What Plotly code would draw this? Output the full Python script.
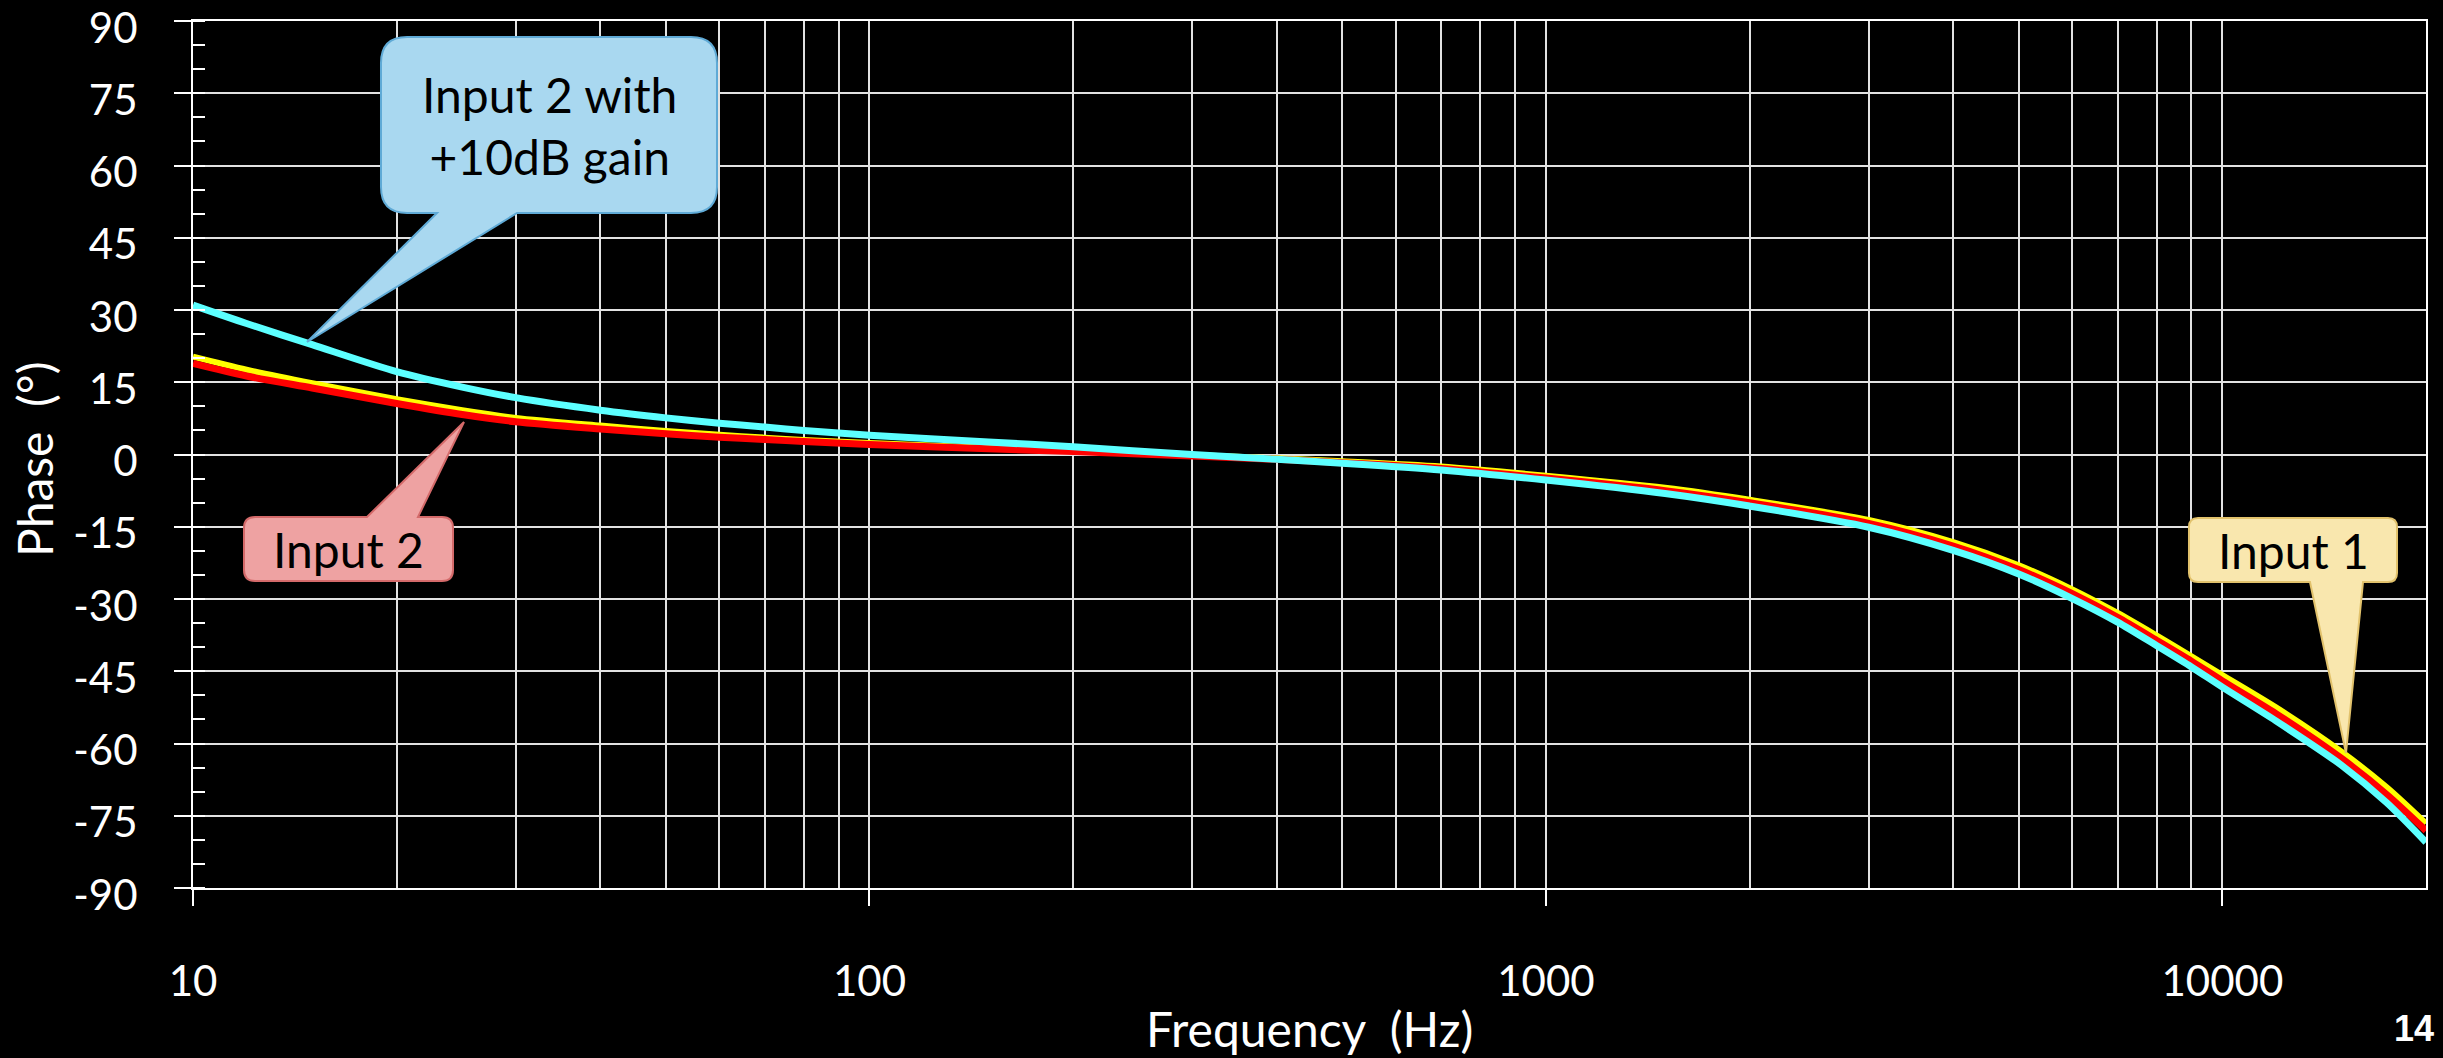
import plotly.graph_objects as go

# ---------------- data ----------------
freq_hz = [10, 12, 15, 20, 25, 30, 40, 50, 60, 70, 80, 100, 150, 200, 300, 400, 500, 700,
           1000, 1500, 2000, 3000, 4000, 5000, 6000, 7000, 8000, 9000, 10000, 12000, 15000,
           17500, 20000]

phase_input1 = [20.3, 17.6, 14.8, 11.5, 9.2, 7.6, 6.0, 4.9, 4.1, 3.5, 3.0, 2.4, 1.4, 0.8, -0.1,
                -0.8, -1.4, -2.5, -4.4, -6.9, -9.4, -13.6, -18.2, -23.0, -28.0, -32.9, -37.6,
                -41.9, -45.8, -52.5, -61.7, -69.1, -76.6]

phase_input2 = [18.9, 16.3, 13.8, 10.6, 8.3, 6.8, 5.3, 4.3, 3.6, 3.1, 2.7, 2.1, 1.2, 0.6, -0.3,
                -1.0, -1.7, -2.9, -4.9, -7.5, -10.0, -14.3, -19.0, -23.9, -28.9, -33.8, -38.6,
                -42.9, -47.0, -53.8, -63.1, -70.6, -78.1]

phase_input2_gain = [31.0, 27.2, 22.8, 17.2, 14.0, 11.8, 9.2, 7.6, 6.5, 5.7, 5.0, 4.0, 2.6, 1.6,
                     0.0, -1.0, -1.8, -3.2, -5.3, -8.1, -10.7, -15.1, -19.9, -24.8, -29.9, -34.8,
                     -39.7, -44.1, -48.3, -55.3, -64.5, -72.3, -80.5]

x_tick_vals = [10, 100, 1000, 10000]
x_tick_text = ["10", "100", "1000", "10000"]
x_minor_grid = [20, 30, 40, 50, 60, 70, 80, 90,
                200, 300, 400, 500, 600, 700, 800, 900,
                2000, 3000, 4000, 5000, 6000, 7000, 8000, 9000]
y_tick_vals = [90, 75, 60, 45, 30, 15, 0, -15, -30, -45, -60, -75, -90]
y_tick_text = ["90", "75", "60", "45", "30", "15", "0", "-15", "-30", "-45", "-60", "-75", "-90"]

# ---------------- layout geometry ----------------
W, H = 2443, 1058
L, R, T, B = 193, 2426, 21, 888
PW, PH = R - L, B - T
FONT = "Lato"
GRID = "#E2E2E2"


def to_paper(x, y):
    return (x - L) / PW, (B - y) / PH


def callout_path(left, top, right, bottom, r, edge, bx0, bx1, tip):
    cmds = []

    def P(x, y):
        px, py = to_paper(x, y)
        return f"{px:.5f},{py:.5f}"

    cmds.append("M" + P(left + r, top))
    if edge == "top":
        cmds.append("L" + P(bx0, top))
        cmds.append("L" + P(*tip))
        cmds.append("L" + P(bx1, top))
    cmds.append("L" + P(right - r, top))
    cmds.append("Q" + P(right, top) + " " + P(right, top + r))
    cmds.append("L" + P(right, bottom - r))
    cmds.append("Q" + P(right, bottom) + " " + P(right - r, bottom))
    if edge == "bottom":
        cmds.append("L" + P(bx1, bottom))
        cmds.append("L" + P(*tip))
        cmds.append("L" + P(bx0, bottom))
    cmds.append("L" + P(left + r, bottom))
    cmds.append("Q" + P(left, bottom) + " " + P(left, bottom - r))
    cmds.append("L" + P(left, top + r))
    cmds.append("Q" + P(left, top) + " " + P(left + r, top))
    return " ".join(cmds) + " Z"


fig = go.Figure()
fig.add_trace(go.Scatter(x=freq_hz, y=phase_input1, mode="lines", name="Input 1",
                         line=dict(color="#FFFF00", width=6, shape="spline", smoothing=0.8)))
fig.add_trace(go.Scatter(x=freq_hz, y=phase_input2, mode="lines", name="Input 2",
                         line=dict(color="#FF0000", width=7, shape="spline", smoothing=0.8)))
fig.add_trace(go.Scatter(x=freq_hz, y=phase_input2_gain, mode="lines",
                         name="Input 2 with +10dB gain",
                         line=dict(color="#5CFFFF", width=7, shape="spline", smoothing=0.8)))

callouts = [
    # box (left, top, right, bottom), radius, tail edge, tail base x0/x1, tip, fill, border, text
    ((381, 37, 717, 213), 26, "bottom", 437, 517, (307, 342), "#A9D8F0", "#5FAAD6",
     "Input 2 with<br>+10dB gain"),
    ((244, 517, 453, 581), 11, "top", 367, 418, (464, 422), "#EEA2A2", "#D46A6A", "Input 2"),
    ((2189, 518, 2397, 582), 9, "bottom", 2310, 2363, (2346, 753), "#F9E7AE", "#E2C26C",
     "Input 1"),
]

shapes = []
annotations = []
for (l, t, r_, b), rad, edge, bx0, bx1, tip, fill, border, text in callouts:
    shapes.append(dict(type="path", xref="paper", yref="paper",
                       path=callout_path(l, t, r_, b, rad, edge, bx0, bx1, tip),
                       fillcolor=fill, line=dict(color=border, width=2), layer="above"))
    cx, cy = to_paper((l + r_) / 2, (t + b) / 2)
    annotations.append(dict(x=cx, y=cy, xref="paper", yref="paper", text=text,
                            showarrow=False, xanchor="center", yanchor="middle",
                            font=dict(family=FONT, size=48, color="black")))

ax, ay = to_paper(34, 459)
annotations.append(dict(x=ax, y=ay, xref="paper", yref="paper", text="Phase&nbsp; (°)",
                        textangle=-90, showarrow=False, xanchor="center", yanchor="middle",
                        font=dict(family=FONT, size=48, color="white")))
fx, fy = to_paper(1309, 1028)
annotations.append(dict(x=fx, y=fy, xref="paper", yref="paper", text="Frequency&nbsp; (Hz)",
                        showarrow=False, xanchor="center", yanchor="middle",
                        font=dict(family=FONT, size=48, color="white")))
px14, py14 = to_paper(2414, 1028)
annotations.append(dict(x=px14, y=py14, xref="paper", yref="paper", text="<b>14</b>",
                        showarrow=False, xanchor="center", yanchor="middle",
                        font=dict(family="Liberation Sans", size=36, color="white")))

fig.update_layout(
    width=W, height=H,
    margin=dict(l=L, r=W - R, t=T, b=H - B, autoexpand=False),
    paper_bgcolor="black", plot_bgcolor="black",
    showlegend=False,
    font=dict(family=FONT, color="white"),
    shapes=shapes, annotations=annotations,
)

fig.update_xaxes(
    type="log", range=[1, 4.30103], automargin=False,
    tickvals=x_tick_vals, ticktext=x_tick_text,
    ticks="outside", ticklen=16, tickwidth=2, tickcolor="white",
    ticklabelstandoff=40, ticklabeloverflow="allow",
    tickfont=dict(family=FONT, size=42, color="white"),
    showgrid=True, gridcolor=GRID, gridwidth=2,
    minor=dict(tickvals=x_minor_grid, showgrid=True, gridcolor=GRID, gridwidth=2, ticks=""),
    showline=True, linecolor="white", linewidth=2, mirror=True, zeroline=False,
)
fig.update_yaxes(
    range=[-90, 90], automargin=False,
    tickvals=y_tick_vals, ticktext=y_tick_text,
    ticks="outside", ticklen=17, tickwidth=2, tickcolor="white",
    ticklabelstandoff=28, ticklabeloverflow="allow", ticklabelshift=7,
    tickfont=dict(family=FONT, size=42, color="white"),
    showgrid=True, gridcolor=GRID, gridwidth=2,
    minor=dict(dtick=5, ticks="inside", ticklen=12, tickwidth=2, tickcolor="white",
               showgrid=False),
    showline=True, linecolor="white", linewidth=2, mirror=True, zeroline=False,
)

fig.write_html("out.html", config={"displayModeBar": False},
               post_script="document.body.style.margin='0';document.body.style.overflow='hidden';")
